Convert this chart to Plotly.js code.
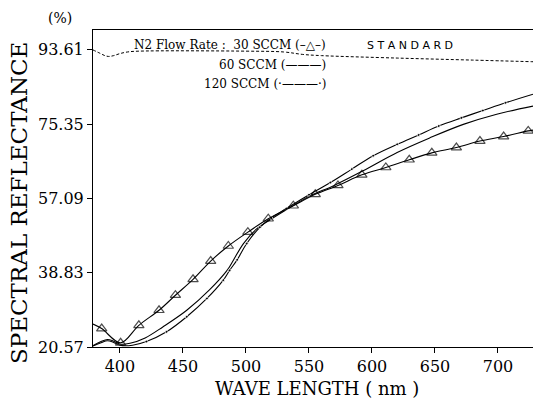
<!DOCTYPE html>
<html><head><meta charset="utf-8">
<script src="https://cdn.plot.ly/plotly-3.0.1.min.js"></script>
<style>html,body{margin:0;padding:0;background:#fff}#chart{width:533px;height:405px}</style>
</head><body><div id="chart"></div>
<script>
const yTickVals = [20.57, 38.83, 57.09, 75.35, 93.61];
const yTickText = ["20.57", "38.83", "57.09", "75.35", "93.61"];
const xTickVals = [400, 450, 500, 550, 600, 650, 700];

const stdWave = [378.6, 384, 388, 391, 395, 400, 406, 415, 500, 530, 545, 560, 620, 680, 727.8];
const stdRefl = [93.6, 92.8, 92.2, 92.0, 92.2, 92.7, 93.1, 93.3, 93.3, 93.1, 92.5, 92.2, 91.6, 91.1, 90.7];

const wave30 = [378.6, 385.5, 400.5, 415, 431, 444, 458, 472, 486, 501.5, 517.7, 537.6, 555, 573, 592, 611, 629.6, 647.5, 667, 685.7, 704.5, 724, 727.8];
const refl30 = [26.2, 25.1, 21.6, 25.9, 29.6, 33.3, 37.2, 41.7, 45.4, 48.8, 52.1, 55.3, 58.1, 60.3, 62.9, 64.7, 66.6, 68.3, 69.6, 71.2, 72.3, 73.7, 73.9];

const wave60 = [378.6, 385, 390, 395, 400, 408, 420, 434, 453, 471, 485, 490, 498, 508.5, 519, 532, 550, 570, 593, 620, 646, 672.5, 699, 727.8];
const refl60 = [20.9, 21.9, 22.4, 22.0, 21.3, 21.5, 22.8, 25.5, 29.6, 34.6, 39.4, 41.9, 46.0, 49.6, 51.8, 54.3, 57.6, 60.3, 63.9, 68.4, 72.0, 75.3, 77.8, 79.8];

const wave120 = [378.6, 385, 390, 395, 400, 410, 421, 437, 453, 469, 482, 487, 493, 500.6, 511, 520, 532, 550, 567, 584, 601, 620, 637, 653, 671, 688, 706, 727.8];
const refl120 = [20.8, 21.6, 22.1, 21.7, 21.0, 21.0, 21.9, 24.3, 28.0, 32.5, 37.0, 39.4, 42.0, 46.0, 50.0, 52.3, 54.6, 58.0, 61.0, 64.3, 67.6, 70.4, 72.7, 74.9, 76.9, 78.7, 80.6, 82.7];

const serif = "DejaVu Serif, Liberation Serif, serif";

const size30 = wave30.map((w, i) => (i === 0 || i === wave30.length - 1) ? 0 : 9);
const size120 = wave120.map((w, i) => (i < 6 || i === wave120.length - 1) ? 0 : 3);

const traces = [
  {x: stdWave, y: stdRefl, mode: 'lines', line: {color: '#000', width: 1, dash: '3px,2px', shape: 'spline'}},
  {x: wave60, y: refl60, mode: 'lines', line: {color: '#000', width: 1.1, shape: 'spline'}},
  {x: wave120, y: refl120, mode: 'lines+markers', line: {color: '#000', width: 1.1, shape: 'spline'},
   marker: {symbol: 'circle', size: size120, color: '#000'}},
  {x: wave30, y: refl30, mode: 'lines+markers', line: {color: '#000', width: 1.1, shape: 'spline'},
   marker: {symbol: 'triangle-up-open', size: size30, color: '#000', line: {color: '#000', width: 1.2}}}
];

const PW = 440, PH = 317;
const px = v => (v - 93) / PW;
const py = v => (347 - v) / PH;

function note(x, y, text, size, opts) {
  return Object.assign({xref: 'paper', yref: 'paper', x: px(x), y: py(y), text: text, showarrow: false,
    xanchor: 'center', yanchor: 'middle', font: {family: serif, size: size, color: '#000'}}, opts || {});
}

const layout = {
  width: 533, height: 405,
  margin: {l: 93, r: 0, t: 30, b: 58, pad: 0},
  paper_bgcolor: '#fff', plot_bgcolor: '#fff',
  showlegend: false,
  xaxis: {
    range: [378.6, 727.8], tickvals: xTickVals, ticks: 'outside', ticklen: 5, tickcolor: '#000',
    showline: true, linecolor: '#000', linewidth: 1, mirror: true, showgrid: false, zeroline: false,
    tickfont: {family: serif, size: 16, color: '#000'}
  },
  yaxis: {
    range: [20.57, 98.5], tickvals: yTickVals, ticktext: yTickText, ticks: 'outside', ticklen: 5, tickcolor: '#000',
    showline: true, linecolor: '#000', linewidth: 1, mirror: false, showgrid: false, zeroline: false,
    tickfont: {family: serif, size: 16, color: '#000'}
  },
  annotations: [
    note(60, 18, '(%)', 14),
    note(19, 203, 'SPECTRAL REFLECTANCE', 23, {textangle: -90}),
    note(317, 388, 'WAVE LENGTH ( nm )', 18),
    note(132, 45, 'N2 Flow Rate :  30 SCCM (–△–)', 12, {xanchor: 'left'}),
    note(328, 65, '60 SCCM (———)', 12, {xanchor: 'right'}),
    note(328, 84, '120 SCCM (·———·)', 12, {xanchor: 'right'}),
    note(365, 45, 'S T A N D A R D', 11, {xanchor: 'left', font: {family: 'DejaVu Sans, sans-serif', size: 11, color: '#000'}})
  ]
};

Plotly.newPlot('chart', traces, layout, {staticPlot: true, displayModeBar: false});
</script></body></html>
